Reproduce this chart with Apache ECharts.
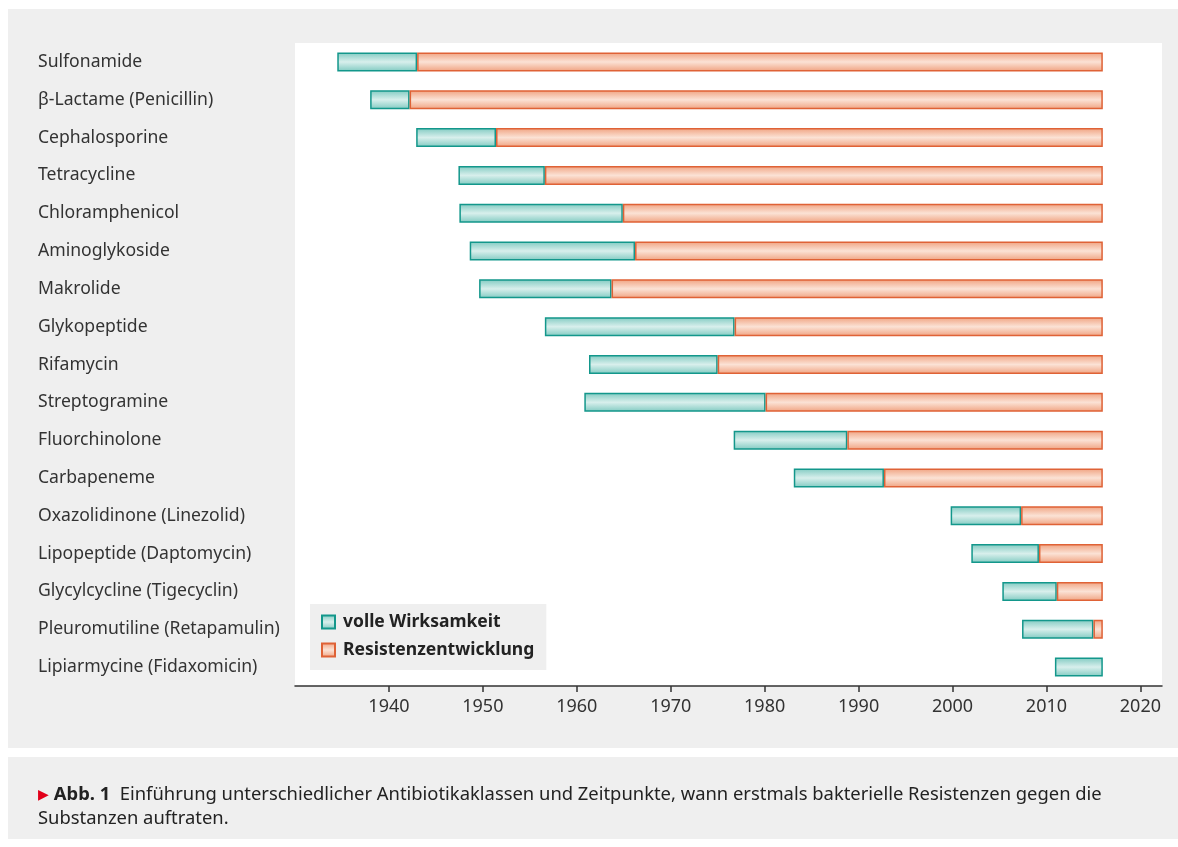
<!DOCTYPE html>
<html><head><meta charset="utf-8">
<script src="https://cdn.jsdelivr.net/npm/echarts@6/dist/echarts.min.js"></script>
<style>html,body{margin:0;padding:0;background:#fff}#c{width:1178px;height:847px}</style>
</head><body><div id="c"></div>
<script>
const categories = ["Sulfonamide","β-Lactame (Penicillin)","Cephalosporine","Tetracycline","Chloramphenicol","Aminoglykoside","Makrolide","Glykopeptide","Rifamycin","Streptogramine","Fluorchinolone","Carbapeneme","Oxazolidinone (Linezolid)","Lipopeptide (Daptomycin)","Glycylcycline (Tigecyclin)","Pleuromutiline (Retapamulin)","Lipiarmycine (Fidaxomicin)"];
const introYear = [1934.5,1938.0,1942.9,1947.4,1947.5,1948.6,1949.6,1956.6,1961.3,1960.8,1976.7,1983.1,1999.8,2002.0,2005.3,2007.4,2010.9];
const resistanceYear = [1943.0,1942.2,1951.4,1956.6,1964.9,1966.2,1963.7,1976.8,1975.0,1980.1,1988.8,1992.7,2007.3,2009.2,2011.1,2015.0,2016.0];
const endYear = 2016;
const xTicks = [1940,1950,1960,1970,1980,1990,2000,2010,2020];
const seriesNames = ["volle Wirksamkeit","Resistenzentwicklung"];
const captionLabel = "Abb. 1";
const captionLines = ["Einführung unterschiedlicher Antibiotikaklassen und Zeitpunkte, wann erstmals bakterielle Resistenzen gegen die","Substanzen auftraten."];

const baseData = introYear;
const effData = introYear.map((v,i)=>+(resistanceYear[i]-v).toFixed(2));
const resData = resistanceYear.map(v=>{const d=+(endYear-v).toFixed(2);return d>0?d:'-';});

const grad = (a,b)=>new echarts.graphic.LinearGradient(0,0,0,1,[{offset:0,color:a},{offset:0.5,color:b},{offset:1,color:a}]);
const FONT = "Noto Sans";

const chart = echarts.init(document.getElementById('c'));
chart.setOption({
  animation:false,
  textStyle:{fontFamily:FONT},
  graphic:[
    {type:'rect',z:-10,silent:true,shape:{x:8,y:9,width:1170,height:739},style:{fill:'#efefef'}},
    {type:'rect',z:-10,silent:true,shape:{x:8,y:757,width:1170,height:82},style:{fill:'#efefef'}},
    {type:'text',left:38,top:783,style:{
      text:'{m|▶} {b|'+captionLabel+'}  '+captionLines[0]+'\n'+captionLines[1],
      fontFamily:FONT,fontSize:18.4,fill:'#222',lineHeight:24,
      rich:{m:{fill:'#e2001a',fontSize:14,fontFamily:FONT,lineHeight:24},b:{fontWeight:'bold',fill:'#222',fontSize:18.4,fontFamily:FONT,lineHeight:24}}
    }}
  ],
  grid:{left:295,right:16,top:43,bottom:161,show:true,backgroundColor:'#fff',borderWidth:0},
  legend:{
    orient:'vertical',left:310,top:604,data:seriesNames,icon:'rect',
    backgroundColor:'#efefef',padding:[8,12,10,11],itemGap:8,
    itemWidth:13,itemHeight:13,borderRadius:0,
    textStyle:{fontFamily:FONT,fontSize:17.5,fontWeight:'bold',color:'#222',lineHeight:20,padding:[0,0,0,3]},
    selectedMode:false
  },
  xAxis:{
    type:'value',min:1930,max:2022.3,interval:10,
    splitLine:{show:false},
    axisLine:{show:true,lineStyle:{color:'#333',width:1.5}},
    axisTick:{show:true,customValues:xTicks,length:6,lineStyle:{color:'#333',width:1.5}},
    axisLabel:{customValues:xTicks,formatter:v=>String(v),color:'#333',fontSize:18,margin:12,fontFamily:FONT}
  },
  yAxis:{
    type:'category',inverse:true,data:categories,
    axisLine:{show:false},axisTick:{show:false},
    axisLabel:{align:'left',margin:257,color:'#333',fontSize:17.6,fontFamily:FONT}
  },
  series:[
    {type:'bar',stack:'s',data:baseData,barWidth:19,itemStyle:{color:'transparent'},silent:true,legendHoverLink:false,tooltip:{show:false}},
    {name:seriesNames[0],type:'bar',stack:'s',data:effData,barWidth:19,
      itemStyle:{color:grad('#80cac1','#d8efec'),borderColor:'#13978b',borderWidth:1.5}},
    {name:seriesNames[1],type:'bar',stack:'s',data:resData,barWidth:19,
      itemStyle:{color:grad('#f0a280','#fbe2d5'),borderColor:'#df6236',borderWidth:1.5}}
  ]
});
</script></body></html>
